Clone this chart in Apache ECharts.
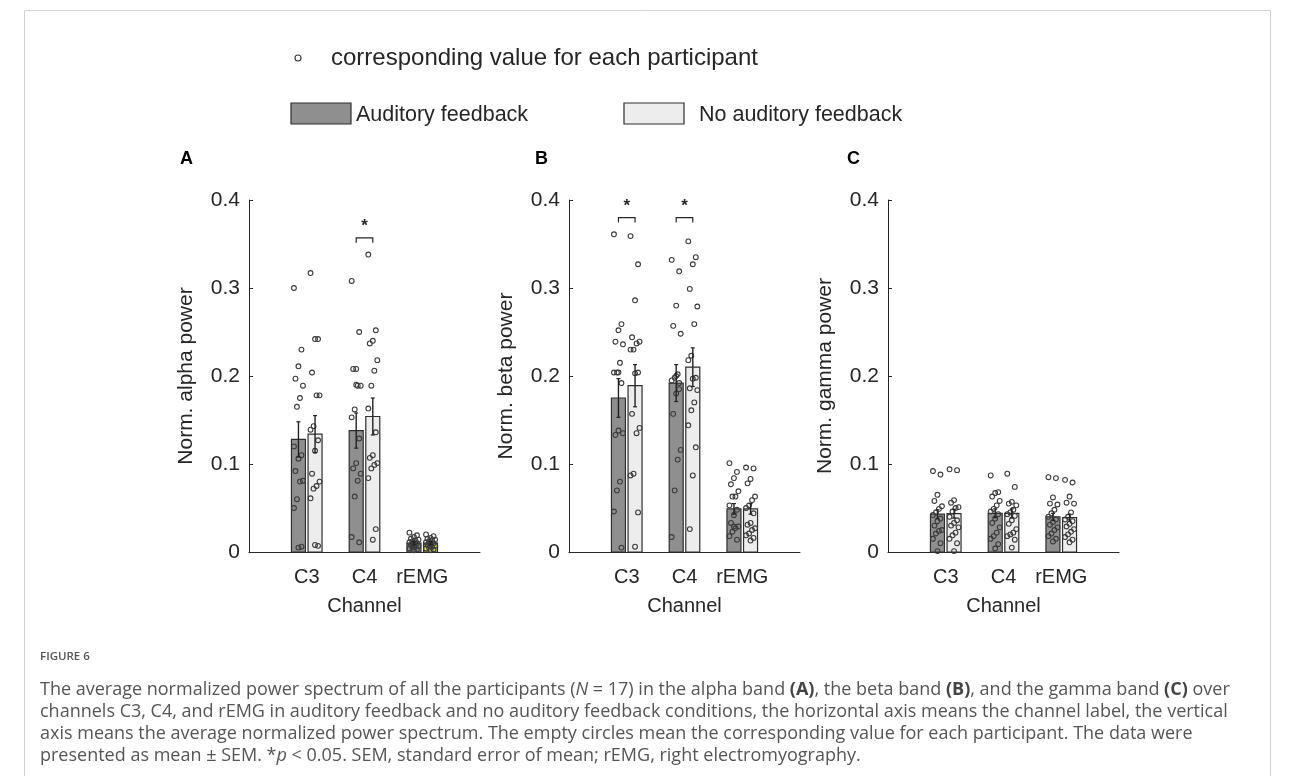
<!DOCTYPE html>
<html><head><meta charset="utf-8">
<script src="https://cdn.jsdelivr.net/npm/echarts@6/dist/echarts.min.js"></script>
<style>html,body{margin:0;padding:0;background:#fff;}#c{width:1290px;height:776px;}</style>
</head><body><div id="c"></div>
<script>
// ---------- data ----------
const categories = ['C3', 'C4', 'rEMG'];
const yTickValues = [0, 0.1, 0.2, 0.3, 0.4];
const conditions = ['Auditory feedback', 'No auditory feedback'];
const panelLetters = ['A', 'B', 'C'];
const yNames = ['Norm. alpha power', 'Norm. beta power', 'Norm. gamma power'];

// Alpha band
const alphaMeanAud = [0.128, 0.138, 0.010];
const alphaMeanNoAud = [0.134, 0.154, 0.010];
const alphaSemAud = [0.020, 0.020, 0.002];
const alphaSemNoAud = [0.021, 0.021, 0.002];
const alphaDotsAud = [
  [0.300, 0.230, 0.211, 0.197, 0.189, 0.175, 0.165, 0.120, 0.110, 0.106, 0.092, 0.081, 0.080, 0.060, 0.050, 0.006, 0.005],
  [0.308, 0.250, 0.208, 0.208, 0.189, 0.189, 0.162, 0.153, 0.129, 0.101, 0.095, 0.089, 0.081, 0.063, 0.017, 0.011, 0.190],
  [0.022, 0.019, 0.017, 0.015, 0.014, 0.013, 0.012, 0.011, 0.010, 0.009, 0.008, 0.007, 0.006, 0.005, 0.004, 0.003, 0.002]
];
const alphaDotsNoAud = [
  [0.317, 0.242, 0.242, 0.204, 0.178, 0.178, 0.143, 0.139, 0.127, 0.115, 0.089, 0.080, 0.075, 0.072, 0.061, 0.007, 0.008],
  [0.338, 0.252, 0.240, 0.237, 0.218, 0.206, 0.189, 0.163, 0.136, 0.110, 0.107, 0.101, 0.099, 0.095, 0.084, 0.026, 0.014],
  [0.020, 0.018, 0.016, 0.015, 0.014, 0.013, 0.012, 0.011, 0.010, 0.009, 0.008, 0.007, 0.006, 0.005, 0.004, 0.003, 0.002]
];
const alphaSig = ['C4'];

// Beta band
const betaMeanAud = [0.175, 0.192, 0.049];
const betaMeanNoAud = [0.189, 0.210, 0.049];
const betaSemAud = [0.022, 0.021, 0.006];
const betaSemNoAud = [0.024, 0.022, 0.006];
const betaDotsAud = [
  [0.361, 0.259, 0.252, 0.239, 0.236, 0.215, 0.204, 0.204, 0.192, 0.138, 0.133, 0.135, 0.080, 0.070, 0.046, 0.005, 0.204],
  [0.332, 0.319, 0.280, 0.257, 0.248, 0.202, 0.198, 0.195, 0.192, 0.180, 0.157, 0.116, 0.105, 0.070, 0.017, 0.185, 0.200],
  [0.101, 0.091, 0.084, 0.077, 0.069, 0.063, 0.063, 0.053, 0.048, 0.042, 0.033, 0.029, 0.027, 0.023, 0.018, 0.014, 0.029]
];
const betaDotsNoAud = [
  [0.359, 0.327, 0.286, 0.244, 0.239, 0.237, 0.230, 0.230, 0.204, 0.203, 0.157, 0.141, 0.135, 0.089, 0.087, 0.045, 0.006],
  [0.353, 0.335, 0.327, 0.299, 0.279, 0.259, 0.223, 0.218, 0.198, 0.197, 0.186, 0.184, 0.170, 0.161, 0.144, 0.119, 0.087, 0.026],
  [0.096, 0.095, 0.083, 0.078, 0.063, 0.059, 0.053, 0.050, 0.044, 0.033, 0.031, 0.027, 0.025, 0.021, 0.019, 0.016, 0.013]
];
const betaSig = ['C3', 'C4'];

// Gamma band
const gammaMeanAud = [0.043, 0.044, 0.040];
const gammaMeanNoAud = [0.0435, 0.044, 0.039];
const gammaSemAud = [0.005, 0.005, 0.004];
const gammaSemNoAud = [0.005, 0.005, 0.004];
const gammaDotsAud = [
  [0.092, 0.088, 0.065, 0.058, 0.052, 0.049, 0.045, 0.042, 0.038, 0.035, 0.030, 0.025, 0.024, 0.021, 0.015, 0.010, 0.001],
  [0.087, 0.068, 0.067, 0.063, 0.058, 0.053, 0.049, 0.046, 0.043, 0.038, 0.033, 0.028, 0.022, 0.018, 0.015, 0.009, 0.004],
  [0.085, 0.084, 0.062, 0.055, 0.054, 0.048, 0.044, 0.040, 0.037, 0.034, 0.031, 0.028, 0.025, 0.021, 0.018, 0.015, 0.012]
];
const gammaDotsNoAud = [
  [0.094, 0.093, 0.059, 0.056, 0.051, 0.050, 0.046, 0.040, 0.036, 0.033, 0.030, 0.028, 0.022, 0.019, 0.015, 0.010, 0.001],
  [0.089, 0.074, 0.057, 0.055, 0.053, 0.048, 0.045, 0.043, 0.041, 0.036, 0.032, 0.026, 0.022, 0.020, 0.018, 0.014, 0.005],
  [0.082, 0.079, 0.063, 0.056, 0.055, 0.045, 0.040, 0.037, 0.035, 0.032, 0.029, 0.026, 0.023, 0.020, 0.017, 0.014, 0.011]
];
const gammaSig = [];

// ---------- build ----------
const panels = [
  {meanA: alphaMeanAud, meanN: alphaMeanNoAud, semA: alphaSemAud, semN: alphaSemNoAud, dotsA: alphaDotsAud, dotsN: alphaDotsNoAud, sig: alphaSig},
  {meanA: betaMeanAud, meanN: betaMeanNoAud, semA: betaSemAud, semN: betaSemNoAud, dotsA: betaDotsAud, dotsN: betaDotsNoAud, sig: betaSig},
  {meanA: gammaMeanAud, meanN: gammaMeanNoAud, semA: gammaSemAud, semN: gammaSemNoAud, dotsA: gammaDotsAud, dotsN: gammaDotsNoAud, sig: gammaSig}
];

const INK = '#262626';
const DARK = '#8f8f8f';
const LIGHT = '#ededed';
const EDGE = '#2e2e2e';
const BW = 14, OFF = 8.3;
const gridLefts = [249, 569, 888];
const GW = 231, GT = 200, GH = 352;
const FONT = '"Liberation Sans", Arial, sans-serif';

const grids = [], xAxes = [], yAxes = [], series = [];

function fillFor(p, x, c) {
  if (c === 0) return DARK;
  if (p === 0 && x === 3) return '#ddd35a';
  return LIGHT;
}

panels.forEach((P, p) => {
  grids.push({left: gridLefts[p], top: GT, width: GW, height: GH});
  xAxes.push({
    type: 'value', gridIndex: p, min: 0, max: categories.length + 1, interval: 1,
    axisLine: {show: true, lineStyle: {color: INK, width: 1}},
    axisTick: {show: false}, splitLine: {show: false},
    axisLabel: {color: INK, fontSize: 20, fontFamily: FONT, margin: 15,
      formatter: v => (v >= 1 && v <= categories.length) ? categories[v - 1] : ''},
    name: 'Channel', nameLocation: 'middle', nameGap: 44,
    nameTextStyle: {color: INK, fontSize: 20, fontFamily: FONT}
  });
  yAxes.push({
    type: 'value', gridIndex: p, min: yTickValues[0], max: yTickValues[yTickValues.length - 1], interval: 0.1,
    axisLine: {show: true, lineStyle: {color: INK, width: 1}},
    axisTick: {show: true, inside: true, length: 4, lineStyle: {color: INK}},
    splitLine: {show: false},
    axisLabel: {color: INK, fontSize: 21, fontFamily: FONT, margin: 9,
      formatter: v => v === 0 ? '0' : v.toFixed(1)},
    name: yNames[p], nameLocation: 'middle', nameGap: 52,
    nameTextStyle: {color: INK, fontSize: 21, fontFamily: FONT}
  });

  const barData = [], errData = [], dotData = [], sigData = [];
  categories.forEach((cat, k) => {
    const x = k + 1;
    barData.push([x, P.meanA[k], 0]);
    barData.push([x, P.meanN[k], 1]);
    errData.push([x, P.meanA[k] - P.semA[k], P.meanA[k] + P.semA[k], 0]);
    errData.push([x, P.meanN[k] - P.semN[k], P.meanN[k] + P.semN[k], 1]);
    P.dotsA[k].forEach((v, i) => dotData.push([x, v, 0, i]));
    P.dotsN[k].forEach((v, i) => dotData.push([x, v, 1, i]));
  });
  let sigMax = 0;
  P.sig.forEach(cat => {
    const k = categories.indexOf(cat);
    sigMax = Math.max(sigMax, ...P.dotsA[k], ...P.dotsN[k]);
  });
  P.sig.forEach(cat => sigData.push([categories.indexOf(cat) + 1, sigMax + 0.019]));

  series.push({
    type: 'custom', xAxisIndex: p, yAxisIndex: p, z: 2, data: barData, silent: true,
    renderItem: (params, api) => {
      const x = api.value(0), v = api.value(1), c = api.value(2);
      const b = api.coord([x, 0]), t = api.coord([x, v]);
      const cx = b[0] + (c === 0 ? -OFF : OFF);
      return {type: 'rect', shape: {x: cx - BW / 2, y: t[1], width: BW, height: b[1] - t[1]},
        style: {fill: fillFor(p, x, c), stroke: EDGE, lineWidth: 1.2}};
    }
  });
  series.push({
    type: 'custom', xAxisIndex: p, yAxisIndex: p, z: 3, data: dotData, silent: true,
    renderItem: (params, api) => {
      const x = api.value(0), v = api.value(1), c = api.value(2), i = api.value(3);
      const pt = api.coord([x, v]);
      const jit = (((i * 5) % 7) - 3) * 1.5;
      const cx = pt[0] + (c === 0 ? -OFF : OFF) + jit;
      return {type: 'circle', shape: {cx: cx, cy: pt[1], r: 2.4},
        style: {fill: 'none', stroke: '#3a3a3a', lineWidth: 1.1}};
    }
  });
  series.push({
    type: 'custom', xAxisIndex: p, yAxisIndex: p, z: 4, data: errData, silent: true,
    renderItem: (params, api) => {
      const x = api.value(0), lo = api.value(1), hi = api.value(2), c = api.value(3);
      const a = api.coord([x, lo]), b = api.coord([x, hi]);
      const cx = a[0] + (c === 0 ? -OFF : OFF);
      return {type: 'group', children: [
        {type: 'line', shape: {x1: cx, y1: a[1], x2: cx, y2: b[1]}, style: {stroke: '#222', lineWidth: 1.4}},
        {type: 'line', shape: {x1: cx - 2, y1: a[1], x2: cx + 2, y2: a[1]}, style: {stroke: '#222', lineWidth: 1.2}},
        {type: 'line', shape: {x1: cx - 2, y1: b[1], x2: cx + 2, y2: b[1]}, style: {stroke: '#222', lineWidth: 1.2}}
      ]};
    }
  });
  series.push({
    type: 'custom', xAxisIndex: p, yAxisIndex: p, z: 5, data: sigData, silent: true,
    renderItem: (params, api) => {
      const x = api.value(0), y = api.value(1);
      const pt = api.coord([x, y]);
      const x1 = pt[0] - OFF, x2 = pt[0] + OFF;
      return {type: 'group', children: [
        {type: 'polyline', shape: {points: [[x1, pt[1] + 5], [x1, pt[1]], [x2, pt[1]], [x2, pt[1] + 5]]},
          style: {stroke: INK, lineWidth: 1.2, fill: 'none'}},
        {type: 'text', style: {x: pt[0], y: pt[1] - 3, text: '*', fill: INK, font: 'bold 17px ' + FONT,
          textAlign: 'center', textVerticalAlign: 'bottom'}}
      ]};
    }
  });
});

// ---------- legend, panel letters, caption, frame ----------
const graphic = [
  {type: 'rect', left: 22, top: 8, shape: {width: 1246, height: 820}, style: {fill: 'none', stroke: '#d0d0d0', lineWidth: 1}, z: 0, silent: true},
  {type: 'circle', shape: {cx: 298, cy: 58, r: 3}, style: {fill: 'none', stroke: '#333', lineWidth: 1.1}},
  {type: 'text', left: 331, top: 46, style: {text: 'corresponding value for each participant', fill: INK, font: '24px ' + FONT}},
  {type: 'rect', shape: {x: 291, y: 103, width: 60, height: 21}, style: {fill: DARK, stroke: EDGE, lineWidth: 1.2}},
  {type: 'text', left: 356, top: 104, style: {text: conditions[0], fill: INK, font: '21.5px ' + FONT}},
  {type: 'rect', shape: {x: 624, y: 103, width: 60, height: 21}, style: {fill: LIGHT, stroke: EDGE, lineWidth: 1.2}},
  {type: 'text', left: 699, top: 104, style: {text: conditions[1], fill: INK, font: '21.5px ' + FONT}}
];
const letterX = [180, 535, 847];
panelLetters.forEach((L, i) => graphic.push({type: 'text', left: letterX[i], top: 150,
  style: {text: L, fill: '#000', font: 'bold 18px ' + FONT}}));

const capFont = '"Open Sans", sans-serif';
const capColor = '#555';
graphic.push({type: 'text', left: 40, top: 651, style: {text: 'FIGURE 6', fill: capColor, font: '600 11.5px ' + capFont}});
const capLines = [
  'The average normalized power spectrum of all the participants ({i|N} = 17) in the alpha band {b|(A)}, the beta band {b|(B)}, and the gamma band {b|(C)} over',
  'channels C3, C4, and rEMG in auditory feedback and no auditory feedback conditions, the horizontal axis means the channel label, the vertical',
  'axis means the average normalized power spectrum. The empty circles mean the corresponding value for each participant. The data were',
  'presented as mean \u00b1 SEM. *{i|p} < 0.05. SEM, standard error of mean; rEMG, right electromyography.'
];
capLines.forEach((t, i) => graphic.push({type: 'text', left: 40, top: 681 + i * 22,
  style: {text: t, fill: capColor, font: '18px ' + capFont,
    rich: {b: {fontWeight: 'bold', fontSize: 18, fontFamily: capFont, fill: '#444'},
           i: {fontStyle: 'italic', fontSize: 18, fontFamily: capFont, fill: capColor}}}}));

const chart = echarts.init(document.getElementById('c'), null, {renderer: 'canvas'});
chart.setOption({
  animation: false,
  backgroundColor: '#fff',
  grid: grids, xAxis: xAxes, yAxis: yAxes, series: series, graphic: graphic
});
</script></body></html>
